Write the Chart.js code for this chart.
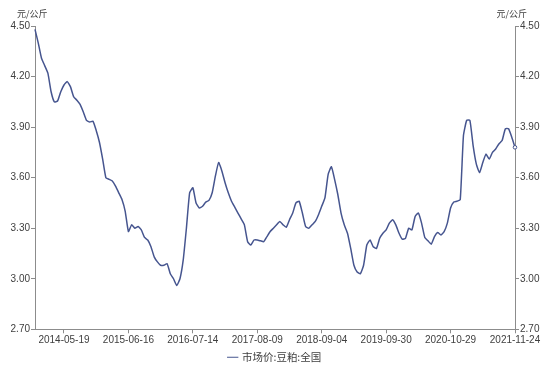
<!DOCTYPE html>
<html>
<head>
<meta charset="utf-8">
<script src="https://cdn.jsdelivr.net/npm/chart.js@4/dist/chart.umd.min.js"></script>
<style>
html,body{margin:0;padding:0;background:#fff;}
#wrap{width:550px;height:369px;position:relative;}
</style>
</head>
<body>
<div id="wrap"><canvas id="c" width="550" height="369"></canvas></div>
<script>
// Tick labels of the category axis (dates) and where they fall in the series
const tickDates = ['2014-05-19','2015-06-16','2016-07-14','2017-08-09','2018-09-04','2019-09-30','2020-10-29','2021-11-24'];
const firstTickIndex = 9;
const pointsPerTick = 20;
const yTicks = [2.70, 3.00, 3.30, 3.60, 3.90, 4.20, 4.50];
const unitLabel = '元/公斤';
const seriesName = '市场价:豆粕:全国';

// Series values (元/公斤)
const prices = [
  4.48,4.40,4.31,4.265,4.22,4.11,4.05,4.055,4.11,4.15,
  4.17,4.14,4.08,4.06,4.035,3.99,3.94,3.93,3.935,3.88,
  3.81,3.71,3.60,3.59,3.58,3.55,3.51,3.47,3.40,3.28,
  3.32,3.30,3.31,3.29,3.245,3.23,3.19,3.13,3.10,3.08,
  3.08,3.09,3.03,3.00,2.96,3.00,3.11,3.30,3.51,3.54,
  3.45,3.42,3.43,3.455,3.465,3.51,3.61,3.69,3.64,3.57,
  3.51,3.46,3.425,3.39,3.355,3.32,3.22,3.20,3.23,3.23,
  3.225,3.22,3.25,3.28,3.30,3.32,3.34,3.32,3.305,3.35,
  3.39,3.45,3.46,3.39,3.31,3.30,3.32,3.34,3.38,3.43,
  3.48,3.62,3.665,3.59,3.50,3.39,3.32,3.27,3.18,3.08,
  3.04,3.03,3.08,3.20,3.23,3.19,3.18,3.24,3.27,3.29,
  3.33,3.35,3.32,3.27,3.235,3.24,3.30,3.29,3.37,3.39,
  3.33,3.245,3.225,3.205,3.25,3.275,3.26,3.28,3.33,3.42,
  3.455,3.46,3.47,3.85,3.94,3.94,3.79,3.68,3.63,3.69,
  3.74,3.71,3.75,3.77,3.80,3.82,3.89,3.89,3.84,3.78
];

// category labels: the date at each tick position, blank between
const labels = prices.map((v, i) => {
  const k = i - firstTickIndex;
  return (k >= 0 && k % pointsPerTick === 0) ? (tickDates[k / pointsPerTick] || '') : '';
});

const textColor = '#404040';
const axisColor = '#8c8c8c';
const lineColor = '#46558f';
const tickFont = { family: '"Liberation Sans", Arial, sans-serif', size: 10 };

const unitPlugin = {
  id: 'units',
  afterDraw(chart) {
    const ctx = chart.ctx;
    ctx.save();
    ctx.font = '9px "Noto Sans CJK SC", sans-serif';
    ctx.fillStyle = textColor;
    ctx.textBaseline = 'middle';
    ctx.textAlign = 'left';
    ctx.fillText(unitLabel, 17, 14);
    ctx.textAlign = 'right';
    ctx.fillText(unitLabel, 527, 14);
    ctx.restore();
  }
};

const yScaleBase = (pos) => ({
  position: pos,
  min: 2.70,
  max: 4.50,
  afterBuildTicks: (s) => { s.ticks = yTicks.map(v => ({ value: v })); },
  afterFit: (s) => { s.width = 35; },
  border: { display: true, color: axisColor, width: 1 },
  grid: { display: true, drawOnChartArea: false, drawTicks: true, tickLength: 4, color: axisColor },
  ticks: {
    color: textColor, font: tickFont, padding: 1,
    callback: (v) => Number(v).toFixed(2)
  }
});

new Chart(document.getElementById('c'), {
  type: 'line',
  data: {
    labels: labels,
    datasets: [{
      label: seriesName,
      data: prices,
      yAxisID: 'y',
      borderColor: lineColor,
      backgroundColor: '#ffffff',
      borderWidth: 1.5,
      tension: 0.15,
      pointRadius: (c) => c.dataIndex === prices.length - 1 ? 1.8 : 0,
      pointBorderWidth: 1,
      pointBorderColor: lineColor,
      pointBackgroundColor: '#ffffff',
      pointHoverRadius: 0
    }]
  },
  options: {
    responsive: false,
    animation: false,
    devicePixelRatio: 1,
    layout: { padding: { top: 26, left: 0, right: 0, bottom: -3.5 } },
    plugins: {
      legend: {
        display: true,
        position: 'bottom',
        labels: {
          color: textColor,
          font: { family: '"Noto Sans CJK SC", sans-serif', size: 10.5 },
          usePointStyle: true,
          pointStyle: 'line',
          boxWidth: 8,
          boxHeight: 8,
          padding: 0
        }
      },
      tooltip: { enabled: false }
    },
    scales: {
      x: {
        type: 'category',
        offset: false,
        afterBuildTicks: (s) => { s.ticks = s.ticks.filter(t => labels[t.value] !== ''); },
        afterFit: (s) => { s.height = 22.7; },
        border: { display: true, color: axisColor, width: 1 },
        grid: { display: true, drawOnChartArea: false, drawTicks: true, tickLength: 4, color: axisColor },
        ticks: {
          autoSkip: false, maxRotation: 0, minRotation: 0,
          color: textColor, font: tickFont, padding: 1,
          callback: (v, i, arr) => labels[arr[i].value]
        }
      },
      y: yScaleBase('left'),
      y2: yScaleBase('right')
    }
  },
  plugins: [unitPlugin]
});
</script>
</body>
</html>
